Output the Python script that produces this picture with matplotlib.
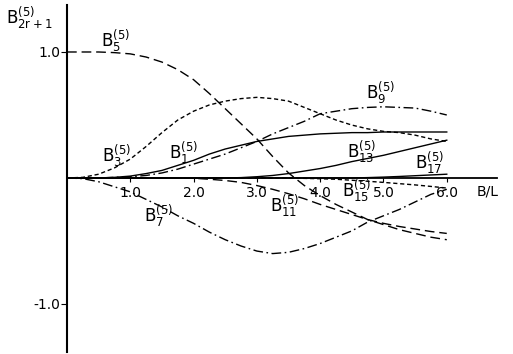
import matplotlib
matplotlib.use("Agg")
import matplotlib.pyplot as plt
import numpy as np

plt.rcParams['font.family'] = ['DejaVu Sans']
plt.rcParams['mathtext.fontset'] = 'dejavusans'
plt.rcParams['lines.scale_dashes'] = False

# B/L grid, step 0.25
bl = np.arange(0, 6.01, 0.25)

b1 = [0, 0, 0, 0.005, 0.015, 0.035, 0.06, 0.10, 0.14, 0.19, 0.23, 0.26, 0.29,
      0.31, 0.33, 0.34, 0.35, 0.355, 0.36, 0.36, 0.365, 0.365, 0.365, 0.365, 0.365]
b3 = [0, 0.005, 0.03, 0.08, 0.15, 0.25, 0.36, 0.46, 0.53, 0.58, 0.61, 0.63, 0.64,
      0.63, 0.61, 0.56, 0.51, 0.46, 0.42, 0.39, 0.37, 0.36, 0.34, 0.31, 0.29]
b5 = [1.0, 1.0, 1.0, 0.995, 0.985, 0.96, 0.92, 0.86, 0.78, 0.67, 0.55, 0.43, 0.31,
      0.17, 0.04, -0.06, -0.14, -0.21, -0.27, -0.33, -0.37, -0.41, -0.44, -0.47, -0.49]
b7 = [0, -0.005, -0.03, -0.07, -0.11, -0.17, -0.23, -0.30, -0.36, -0.43, -0.49, -0.54, -0.58,
      -0.60, -0.59, -0.56, -0.52, -0.47, -0.42, -0.35, -0.30, -0.25, -0.19, -0.13, -0.09]
b9 = [0, 0, 0, 0.005, 0.01, 0.02, 0.04, 0.07, 0.11, 0.15, 0.19, 0.24, 0.29,
      0.35, 0.40, 0.45, 0.51, 0.53, 0.55, 0.56, 0.565, 0.56, 0.555, 0.53, 0.50]
b11 = [0, 0, 0, 0, 0, 0, 0, 0, -0.002, -0.01, -0.02, -0.035, -0.06,
       -0.09, -0.125, -0.165, -0.21, -0.25, -0.29, -0.33, -0.36, -0.385, -0.405, -0.425, -0.44]
b13 = [0, 0, 0, 0, 0, 0, 0, 0, 0, 0, 0, 0.003, 0.01,
       0.02, 0.035, 0.055, 0.075, 0.10, 0.13, 0.155, 0.18, 0.21, 0.24, 0.27, 0.30]
b15 = [0, 0, 0, 0, 0, 0, 0, 0, 0, 0, 0, 0, 0,
       0, 0, -0.003, -0.006, -0.01, -0.018, -0.026, -0.035, -0.045, -0.055, -0.067, -0.08]
b17 = [0, 0, 0, 0, 0, 0, 0, 0, 0, 0, 0, 0, 0,
       0, 0, 0, 0, 0, 0, 0.003, 0.007, 0.012, 0.018, 0.024, 0.03]

x_ticks = [1, 2, 3, 4, 5, 6]
x_tick_labels = ['1.0', '2.0', '3.0', '4.0', '5.0', '6.0']
y_ticks = [1.0, -1.0]
y_tick_labels = ['1.0', '-1.0']

solid = '-'
short_dash = (0, (3, 2))
long_dash = (0, (7, 3.5))
dash_dot = (0, (7, 2.5, 1.2, 2.5))

curves = [
    (b1, solid, '1', (1.84, 0.20)),
    (b3, short_dash, '3', (0.78, 0.18)),
    (b5, long_dash, '5', (0.77, 1.09)),
    (b7, dash_dot, '7', (1.44, -0.30)),
    (b9, dash_dot, '9', (4.96, 0.68)),
    (b11, long_dash, '11', (3.44, -0.22)),
    (b13, solid, '13', (4.65, 0.21)),
    (b15, short_dash, '15', (4.58, -0.10)),
    (b17, solid, '17', (5.73, 0.125)),
]

fig = plt.figure(figsize=(5.13, 3.54), dpi=100)
ax = fig.add_axes([0.1306, 0.0057, 0.839, 0.9802])

for vals, ls, idx, (lx, ly) in curves:
    ax.plot(bl, vals, color='black', lw=1.0, linestyle=ls)
    ax.text(lx, ly, r'$\mathregular{B^{(5)}_{%s}}$' % idx, fontsize=12,
            ha='center', va='center')

ax.set_xlim(0, 6.8)
ax.set_ylim(-1.381, 1.373)

ax.spines['top'].set_visible(False)
ax.spines['right'].set_visible(False)
ax.spines['bottom'].set_position(('data', 0))
ax.spines['left'].set_linewidth(1.5)
ax.spines['bottom'].set_linewidth(1.3)

ax.set_xticks(x_ticks)
ax.set_xticklabels(x_tick_labels, fontsize=10)
ax.set_yticks(y_ticks)
ax.set_yticklabels(y_tick_labels, fontsize=10)
ax.tick_params(axis='x', direction='out', length=3, width=0.8, pad=3)
ax.tick_params(axis='y', direction='out', length=4, width=0.8, pad=1)

ax.text(6.64, -0.105, 'B/L', fontsize=10, ha='center', va='center')
fig.text(29 / 513, 1 - 18 / 354, r'$\mathregular{B^{(5)}_{2r+1}}$', fontsize=12,
         ha='center', va='center')

fig.savefig('out.png', dpi=100)
